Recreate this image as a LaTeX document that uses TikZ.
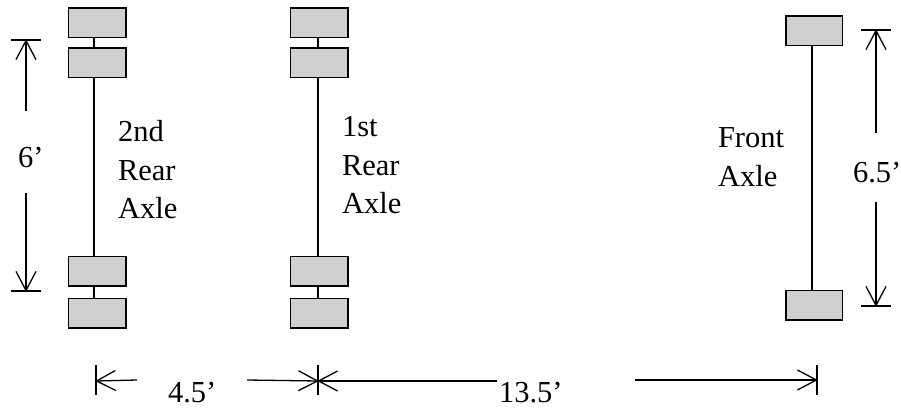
\documentclass[tikz,border=0pt]{standalone}
\usepackage{fontspec}
\setmainfont{Liberation Serif}
\usetikzlibrary{arrows.meta}
\pgfdeclarearrow{
  name=VBarb,
  setup code={\pgfarrowssettipend{0.6pt}\pgfarrowssetlineend{0pt}\pgfarrowssetbackend{-19pt}\pgfarrowssetvisualbackend{-19pt}},
  drawing code={\pgfsetdash{}{0pt}\pgfsetmiterjoin\pgfpathmoveto{\pgfqpoint{-19pt}{10pt}}\pgfpathlineto{\pgfqpoint{0pt}{0pt}}\pgfpathlineto{\pgfqpoint{-19pt}{-10pt}}\pgfusepathqstroke}
}
\tikzset{
  wheel/.style={draw=black,fill=wheelgray,line width=1.5pt,minimum width=57.5pt,minimum height=29.5pt,inner sep=0pt,outer sep=0pt},
  axle/.style={line width=1.4pt},
  dimline/.style={line width=1.3pt,-VBarb},
  dimend/.style={line width=1.3pt},
  lbl/.style={inner sep=0pt,outer sep=0pt,anchor=base west,align=left,font=\fontsize{30.5}{38.5}\selectfont}
}
\definecolor{wheelgray}{HTML}{D0D0D0}
\begin{document}
\begin{tikzpicture}[x=1pt,y=-1pt]
\useasboundingbox (0,0) rectangle (901,409);
% wheels
\node[wheel] (a1) at (97,23) {};
\node[wheel] (a2) at (97,63) {};
\node[wheel] (a3) at (97,271) {};
\node[wheel] (a4) at (97,313) {};
\node[wheel] (b1) at (319,23) {};
\node[wheel] (b2) at (319,63) {};
\node[wheel] (b3) at (319,271) {};
\node[wheel] (b4) at (319,313) {};
\node[wheel,minimum width=56.5pt] (c1) at (814,31) {};
\node[wheel,minimum width=56.5pt] (c2) at (814,305) {};
% axles
\coordinate (ax) at (94,0);
\coordinate (bx) at (318,0);
\coordinate (cx) at (812,0);
\draw[axle] (ax|-a1.south) -- (ax|-a2.north);
\draw[axle] (ax|-a2.south) -- (ax|-a3.north);
\draw[axle] (ax|-a3.south) -- (ax|-a4.north);
\draw[axle] (bx|-b1.south) -- (bx|-b2.north);
\draw[axle] (bx|-b2.south) -- (bx|-b3.north);
\draw[axle] (bx|-b3.south) -- (bx|-b4.north);
\draw[axle] (cx|-c1.south) -- (cx|-c2.north);
% 6' dimension
\coordinate (d1) at (26,40);
\coordinate (d1b) at (26,111);
\coordinate (d2) at (26,291);
\coordinate (d2b) at (26,193);
\coordinate (d1l) at (11,40);
\coordinate (d1r) at (41,40);
\coordinate (d2l) at (11,291);
\coordinate (d2r) at (41,291);
\draw[dimend] (d1l) -- (d1r);
\draw[dimend] (d2l) -- (d2r);
\draw[dimline] (d1b) -- (d1);
\draw[dimline] (d2b) -- (d2);
% 6.5' dimension
\coordinate (e1) at (876,30);
\coordinate (e1b) at (876,133);
\coordinate (e2) at (876,306);
\coordinate (e2b) at (876,202);
\coordinate (e1l) at (861,30);
\coordinate (e1r) at (891,30);
\coordinate (e2l) at (861,306);
\coordinate (e2r) at (891,306);
\draw[dimend] (e1l) -- (e1r);
\draw[dimend] (e2l) -- (e2r);
\draw[dimline] (e1b) -- (e1);
\draw[dimline] (e2b) -- (e2);
% bottom dimensions
\coordinate (f1) at (96,381);
\coordinate (f2) at (318,381);
\coordinate (f3) at (817,380);
\coordinate (f1t) at (96,365);
\coordinate (f1u) at (96,395);
\coordinate (f2t) at (318,365);
\coordinate (f2u) at (318,395);
\coordinate (f3t) at (817,365);
\coordinate (f3u) at (817,395);
\coordinate (g1) at (137,380);
\coordinate (g2) at (247,380);
\coordinate (g3) at (497,381);
\coordinate (g4) at (635,380);
\draw[dimend] (f1t) -- (f1u);
\draw[dimend] (f2t) -- (f2u);
\draw[dimend] (f3t) -- (f3u);
\draw[dimline] (g1) -- (f1);
\draw[dimline] (g2) -- (f2);
\draw[dimline] (g3) -- (f2);
\draw[dimline] (g4) -- (f3);
% labels
\node[lbl] (t1a) at (118,141) {2nd};
\node[lbl] (t1b) at (118,180) {Rear};
\node[lbl] (t1c) at (118,218) {Axle};
\node[lbl] (t2a) at (342,136) {1st};
\node[lbl] (t2b) at (342,175) {Rear};
\node[lbl] (t2c) at (342,213) {Axle};
\node[lbl] (t3a) at (718,147) {Front};
\node[lbl] (t3b) at (718,186) {Axle};
\node[lbl] (t4) at (18,167) {6’};
\node[lbl] (t5) at (853,182) {6.5’};
\node[lbl] (t6) at (168,402) {4.5’};
\node[lbl] (t7) at (499,402) {13.5’};
\end{tikzpicture}
\end{document}
